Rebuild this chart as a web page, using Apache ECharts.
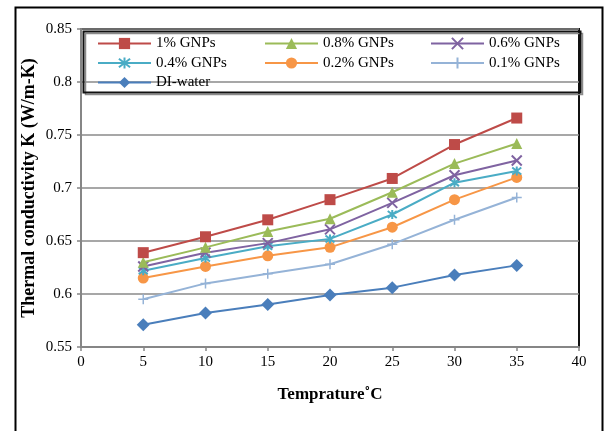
<!DOCTYPE html>
<html>
<head>
<meta charset="utf-8">
<script src="https://cdn.jsdelivr.net/npm/echarts@6/dist/echarts.min.js"></script>
<style>
html,body{margin:0;padding:0;background:#fff;}
#c{width:604px;height:431px;}
</style>
</head>
<body>
<div id="c"></div>
<script>
// Data
const temps = [5, 10, 15, 20, 25, 30, 35];
const seriesNames = ['1% GNPs', '0.8% GNPs', '0.6% GNPs', '0.4% GNPs', '0.2% GNPs', '0.1% GNPs', 'DI-water'];
const gnp1  = [0.639, 0.654, 0.670, 0.689, 0.709, 0.741, 0.766];
const gnp08 = [0.630, 0.644, 0.659, 0.671, 0.696, 0.723, 0.742];
const gnp06 = [0.626, 0.639, 0.648, 0.661, 0.686, 0.712, 0.726];
const gnp04 = [0.622, 0.634, 0.645, 0.652, 0.675, 0.705, 0.716];
const gnp02 = [0.615, 0.626, 0.636, 0.644, 0.663, 0.689, 0.710];
const gnp01 = [0.595, 0.610, 0.619, 0.628, 0.647, 0.670, 0.691];
const diWater = [0.571, 0.582, 0.590, 0.599, 0.606, 0.618, 0.627];
const xTicks = [0, 5, 10, 15, 20, 25, 30, 35, 40];
const yTicks = [0.55, 0.6, 0.65, 0.7, 0.75, 0.8, 0.85];

const values = [gnp1, gnp08, gnp06, gnp04, gnp02, gnp01, diWater];
const colors = ['#BE4B48', '#9BBB59', '#7F63A1', '#4AACC5', '#F79646', '#95B3D7', '#4A7EBB'];
const symbols = [
  'rect',
  'triangle',
  'path://M0,0L10,10M10,0L0,10',
  'path://M0,0L10,10M10,0L0,10M5,-1.5L5,11.5',
  'circle',
  'path://M5,0L5,10M0,5L10,5',
  'diamond'
];
const symSizes = [11, 11, 10, 9, 11, 10, 13];
const strokeSym = [false, false, true, true, false, true, false];

const FONT = 'Liberation Serif';

const series = seriesNames.map((n, i) => ({
  name: n,
  type: 'line',
  data: temps.map((t, j) => [t, values[i][j]]),
  symbol: symbols[i],
  symbolSize: symSizes[i],
  showSymbol: true,
  animation: false,
  lineStyle: { color: colors[i], width: 2 },
  itemStyle: strokeSym[i]
    ? { color: colors[i], borderColor: colors[i], borderWidth: i === 5 ? 1.5 : 2 }
    : { color: colors[i], borderWidth: 0 },
  z: 10 - i
}));

function legendCol(left, names) {
  return {
    orient: 'vertical',
    left: left,
    top: 36,
    data: names,
    itemWidth: 53,
    itemHeight: 14,
    itemGap: 4.5,
    textStyle: { fontFamily: FONT, fontSize: 15, color: '#000', lineHeight: 15, padding: [0, 0, 0, 0] },
    padding: 0
  };
}

const chart = echarts.init(document.getElementById('c'), null, { renderer: 'canvas' });
chart.setOption({
  animation: false,
  backgroundColor: '#fff',
  grid: {
    left: 81, right: 25, top: 29, bottom: 84,
    show: true, borderColor: '#111', borderWidth: 2, backgroundColor: 'transparent'
  },
  legend: [
    legendCol(97, ['1% GNPs', '0.4% GNPs', 'DI-water']),
    legendCol(264, ['0.8% GNPs', '0.2% GNPs']),
    legendCol(430, ['0.6% GNPs', '0.1% GNPs'])
  ],
  xAxis: {
    type: 'value',
    min: xTicks[0], max: xTicks[xTicks.length - 1], interval: 5,
    name: 'Temprature˚C',
    nameLocation: 'middle',
    nameGap: 39,
    nameMoveOverlap: false,
    nameTextStyle: { fontFamily: FONT, fontSize: 17, fontWeight: 'bold', color: '#000' },
    axisLine: { show: true, lineStyle: { color: '#868686', width: 2 } },
    axisTick: { show: true, inside: false, length: 4, lineStyle: { color: '#868686', width: 1.5 } },
    axisLabel: { fontFamily: FONT, fontSize: 15, color: '#000', margin: 8 },
    splitLine: { show: false }
  },
  yAxis: {
    type: 'value',
    min: yTicks[0], max: yTicks[yTicks.length - 1], interval: 0.05,
    name: 'Thermal conductivity K (W/m-K)',
    nameLocation: 'middle',
    nameGap: 43,
    nameMoveOverlap: false,
    nameTextStyle: { fontFamily: FONT, fontSize: 18, fontWeight: 'bold', color: '#000' },
    axisLine: { show: true, onZero: false, lineStyle: { color: '#868686', width: 2 } },
    axisTick: { show: true, inside: false, length: 4, lineStyle: { color: '#868686', width: 1.5 } },
    axisLabel: {
      fontFamily: FONT, fontSize: 15, color: '#000', margin: 9,
      formatter: v => String(parseFloat(v.toFixed(2)))
    },
    splitLine: { show: true, lineStyle: { color: '#8a8a8a', width: 1.5 } }
  },
  graphic: [
    {
      type: 'rect', left: 13, top: 5, z: 100, silent: true,
      shape: { width: 587, height: 440 },
      style: { fill: 'none', stroke: '#000', lineWidth: 2 }
    },
    {
      type: 'rect', left: 83, top: 31, z: 99, silent: true,
      shape: { width: 497, height: 61 },
      style: { fill: 'none', stroke: '#8a8a8a', lineWidth: 1.5 }
    },
    {
      type: 'rect', left: 81, top: 29, z: 100, silent: true,
      shape: { width: 497, height: 61 },
      style: { fill: 'none', stroke: '#111', lineWidth: 2 }
    }
  ],
  series: series
});
</script>
</body>
</html>
